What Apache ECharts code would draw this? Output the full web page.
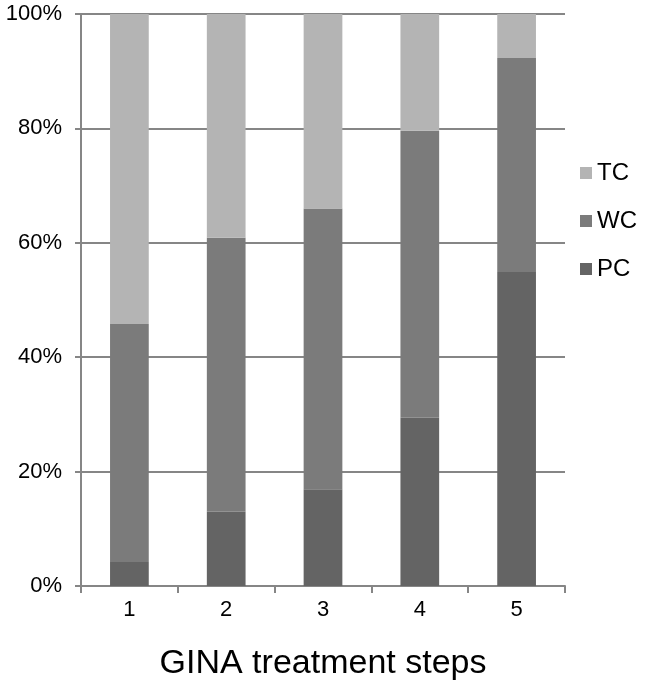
<!DOCTYPE html>
<html>
<head>
<meta charset="utf-8">
<script src="https://cdn.jsdelivr.net/npm/echarts@6/dist/echarts.min.js"></script>
<style>html,body{margin:0;padding:0;background:#fff}#c{width:653px;height:686px}</style>
</head>
<body>
<div id="c"></div>
<script>
const categories = ['1', '2', '3', '4', '5'];
const pcValues = [4.2, 13.0, 16.9, 29.4, 54.9];
const wcValues = [41.6, 47.9, 49.1, 50.2, 37.4];
const tcValues = [54.2, 39.1, 34.0, 20.4, 7.7];
const yTicks = [0, 20, 40, 60, 80, 100];

const chart = echarts.init(document.getElementById('c'), null, {renderer: 'canvas'});
const FONT = '"Liberation Sans", Arial, sans-serif';
const axisGray = '#868686';
function bar(name, data, color) {
  return {name, type: 'bar', stack: 'all', data, barWidth: '40%',
    itemStyle: {color}, emphasis: {disabled: true}};
}
chart.setOption({
  animation: false,
  grid: {left: 81, right: 88, top: 14, bottom: 99, containLabel: false},
  legend: {
    orient: 'vertical', left: 575, top: 156, itemGap: 24,
    itemWidth: 12, itemHeight: 12, icon: 'rect',
    data: ['TC', 'WC', 'PC'],
    textStyle: {fontFamily: FONT, fontSize: 24, color: '#000', padding: [0, 0, 0, 0]}
  },
  xAxis: {
    type: 'category', data: categories,
    name: 'GINA treatment steps', nameLocation: 'middle', nameGap: 61,
    nameTextStyle: {fontFamily: FONT, fontSize: 34, color: '#000'},
    axisLine: {lineStyle: {color: axisGray, width: 2}},
    axisTick: {show: true, length: 7, lineStyle: {color: axisGray, width: 2}},
    axisLabel: {fontFamily: FONT, fontSize: 22, color: '#000', margin: 13}
  },
  yAxis: {
    type: 'value', min: 0, max: 100, interval: 20,
    axisLine: {show: true, lineStyle: {color: axisGray, width: 2}},
    axisTick: {show: true, length: 6, lineStyle: {color: axisGray, width: 2}},
    splitLine: {show: true, lineStyle: {color: axisGray, width: 2}},
    axisLabel: {fontFamily: FONT, fontSize: 22, color: '#000', margin: 19,
      formatter: v => yTicks.includes(v) ? v + '%' : ''}
  },
  series: [
    bar('PC', pcValues, '#646464'),
    bar('WC', wcValues, '#7b7b7b'),
    bar('TC', tcValues, '#b4b4b4')
  ]
});
</script>
</body>
</html>
